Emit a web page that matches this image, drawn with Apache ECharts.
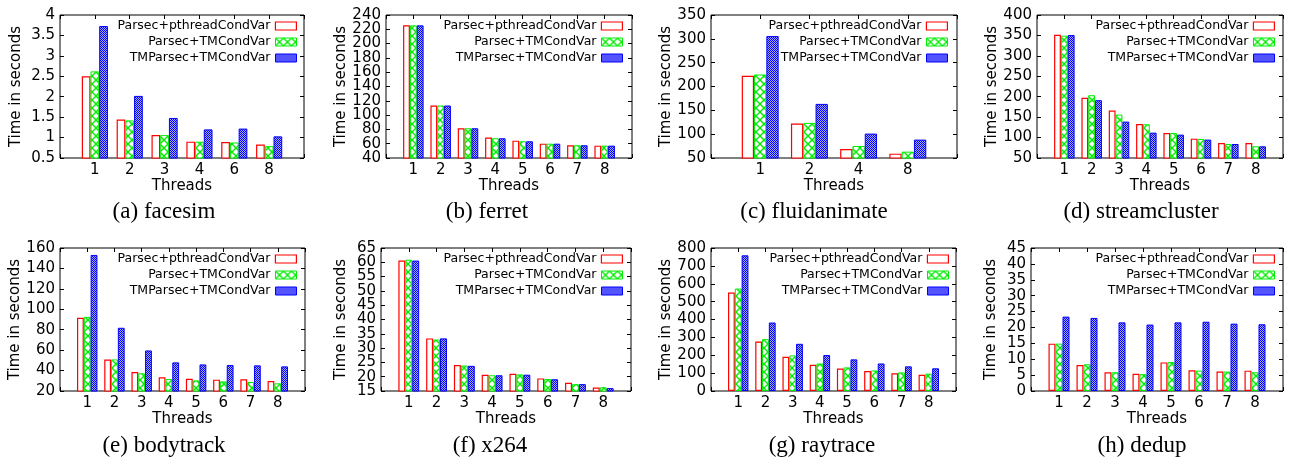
<!DOCTYPE html>
<html>
<head>
<meta charset="utf-8">
<script src="https://cdn.jsdelivr.net/npm/echarts@6/dist/echarts.min.js"></script>
<style>
  html, body { margin: 0; padding: 0; background: #ffffff; }
  #chart { width: 1291px; height: 460px; }
</style>
</head>
<body>
<div id="chart"></div>
<script>
// ---------------- DATA ----------------
const seriesNames = ['Parsec+pthreadCondVar', 'Parsec+TMCondVar', 'TMParsec+TMCondVar'];

const facesimThreads   = ['1', '2', '3', '4', '6', '8'];
const facesimPthread   = [2.50, 1.44, 1.06, 0.90, 0.89, 0.83];
const facesimTMCond    = [2.62, 1.42, 1.06, 0.90, 0.88, 0.79];
const facesimTMParsec  = [3.73, 2.02, 1.48, 1.20, 1.22, 1.03];
const facesimYTicks    = [0.5, 4, 0.5];

const ferretThreads    = ['1', '2', '3', '4', '5', '6', '7', '8'];
const ferretPthread    = [225.5, 113.4, 81.6, 68.5, 64.3, 60.1, 57.8, 57.3];
const ferretTMCond     = [225.5, 113.4, 81.6, 67.6, 63.4, 60.0, 57.8, 57.3];
const ferretTMParsec   = [225.5, 113.4, 81.6, 67.6, 63.4, 60.0, 57.8, 57.3];
const ferretYTicks     = [40, 240, 20];

const fluidThreads     = ['1', '2', '4', '8'];
const fluidPthread     = [222.4, 122.2, 68.9, 59.1];
const fluidTMCond      = [225.2, 123.6, 75.2, 63.3];
const fluidTMParsec    = [305.8, 163.5, 101.2, 88.6];
const fluidYTicks      = [50, 350, 50];

const streamThreads    = ['1', '2', '3', '4', '5', '6', '7', '8'];
const streamPthread    = [351.7, 197.2, 166.1, 133.4, 111.3, 97.4, 86.8, 86.8];
const streamTMCond     = [349.3, 203.7, 156.3, 132.6, 111.3, 96.6, 84.3, 78.6];
const streamTMParsec   = [350.9, 191.5, 139.1, 112.1, 107.2, 95.0, 84.3, 78.6];
const streamYTicks     = [50, 400, 50];

const bodyThreads      = ['1', '2', '3', '4', '5', '6', '7', '8'];
const bodyPthread      = [91.6, 50.9, 38.6, 33.4, 32.0, 31.1, 31.4, 29.8];
const bodyTMCond       = [92.6, 50.9, 37.3, 31.7, 30.4, 29.4, 28.8, 27.5];
const bodyTMParsec     = [153.2, 81.9, 59.7, 48.0, 46.0, 45.4, 45.1, 44.1];
const bodyYTicks       = [20, 160, 20];

const x264Threads      = ['1', '2', '3', '4', '5', '6', '7', '8'];
const x264Pthread      = [60.6, 33.4, 24.1, 20.7, 21.0, 19.4, 17.9, 16.2];
const x264TMCond       = [60.9, 33.0, 23.9, 20.5, 20.8, 19.2, 17.4, 16.3];
const x264TMParsec     = [60.6, 33.4, 23.8, 20.5, 20.7, 19.1, 17.4, 16.0];
const x264YTicks       = [15, 65, 5];

const rayThreads       = ['1', '2', '3', '4', '5', '6', '7', '8'];
const rayPthread       = [551, 277, 192, 147, 126, 112, 99, 91];
const rayTMCond        = [573, 290, 199, 154, 132, 115, 104, 97];
const rayTMParsec      = [759, 383, 264, 201, 177, 154, 138, 127];
const rayYTicks        = [0, 800, 100];

const dedupThreads     = ['1', '2', '3', '4', '5', '6', '7', '8'];
const dedupPthread     = [14.9, 8.2, 5.9, 5.4, 9.0, 6.5, 6.1, 6.4];
const dedupTMCond      = [14.9, 8.4, 5.9, 5.3, 9.1, 6.4, 6.1, 5.9];
const dedupTMParsec    = [23.4, 23.0, 21.6, 20.9, 21.6, 21.8, 21.2, 21.0];
const dedupYTicks      = [0, 45, 5];

const subtitles = ['(a) facesim', '(b) ferret', '(c) fluidanimate', '(d) streamcluster',
                   '(e) bodytrack', '(f) x264', '(g) raytrace', '(h) dedup'];
const xName = 'Threads';
const yName = 'Time in seconds';

const panelData = [
  { threads: facesimThreads, values: [facesimPthread, facesimTMCond, facesimTMParsec], ticks: facesimYTicks },
  { threads: ferretThreads,  values: [ferretPthread,  ferretTMCond,  ferretTMParsec],  ticks: ferretYTicks },
  { threads: fluidThreads,   values: [fluidPthread,   fluidTMCond,   fluidTMParsec],   ticks: fluidYTicks },
  { threads: streamThreads,  values: [streamPthread,  streamTMCond,  streamTMParsec],  ticks: streamYTicks },
  { threads: bodyThreads,    values: [bodyPthread,    bodyTMCond,    bodyTMParsec],    ticks: bodyYTicks },
  { threads: x264Threads,    values: [x264Pthread,    x264TMCond,    x264TMParsec],    ticks: x264YTicks },
  { threads: rayThreads,     values: [rayPthread,     rayTMCond,     rayTMParsec],     ticks: rayYTicks },
  { threads: dedupThreads,   values: [dedupPthread,   dedupTMCond,   dedupTMParsec],   ticks: dedupYTicks }
];

// ---------------- LAYOUT ----------------
const layout = [
  { frame: [60, 15, 304, 158],    legendRight: 297,  subX: 164,  subY: 212, nameGap: 36 },
  { frame: [386, 15, 632, 158],   legendRight: 623,  subX: 487,  subY: 212, nameGap: 36 },
  { frame: [711, 15, 957, 158],   legendRight: 948,  subX: 814,  subY: 212, nameGap: 36 },
  { frame: [1037, 15, 1283, 158], legendRight: 1275, subX: 1141, subY: 212, nameGap: 36 },
  { frame: [60, 248, 305, 391],   legendRight: 297,  subX: 164,  subY: 446, nameGap: 36 },
  { frame: [381, 248, 631, 391],  legendRight: 623,  subX: 490,  subY: 446, nameGap: 32 },
  { frame: [711, 248, 956, 391],  legendRight: 949,  subX: 822,  subY: 446, nameGap: 36 },
  { frame: [1031, 248, 1283, 391],legendRight: 1275, subX: 1142, subY: 446, nameGap: 32 }
];

const W = 1291;
const FONT = 'DejaVu Sans';
const AXIS_FS = 15;

function makeCanvas(w, h, draw) {
  const c = document.createElement('canvas');
  c.width = w; c.height = h;
  draw(c.getContext('2d'));
  return c;
}
const greenPattern = makeCanvas(8, 8, ctx => {
  ctx.fillStyle = '#ffffff'; ctx.fillRect(0, 0, 8, 8);
  ctx.strokeStyle = '#00ee00'; ctx.lineWidth = 1.4;
  ctx.beginPath();
  ctx.moveTo(-1, -1); ctx.lineTo(9, 9);
  ctx.moveTo(9, -1); ctx.lineTo(-1, 9);
  ctx.stroke();
});
const bluePattern = makeCanvas(2, 2, ctx => {
  ctx.fillStyle = '#0000ff'; ctx.fillRect(0, 0, 2, 2);
  ctx.fillStyle = '#a8a8ff';
  ctx.fillRect(1, 0, 1, 1); ctx.fillRect(0, 1, 1, 1);
});

const seriesStyles = [
  { color: '#ffffff', borderColor: '#ff0000', borderWidth: 1.2 },
  { color: { image: greenPattern, repeat: 'repeat' }, borderColor: '#00ee00', borderWidth: 1 },
  { color: { image: bluePattern, repeat: 'repeat' }, borderColor: '#0000ff', borderWidth: 1 }
];

const grid = [], xAxis = [], yAxis = [], series = [], legend = [], graphic = [];
const tick = { show: true, inside: true, length: 4, lineStyle: { color: '#000', width: 1 } };

panelData.forEach((p, i) => {
  const L = layout[i];
  const [fl, ft, fr, fb] = L.frame;
  const gw = fr - fl, gh = fb - ft;
  const n = p.threads.length;
  const unit = gw / (n + 1);
  grid.push({ left: fl, top: ft, width: gw, height: gh, show: true,
              borderColor: '#000', borderWidth: 1, backgroundColor: 'transparent' });

  const xBase = { type: 'value', gridIndex: i, min: -1, max: n, interval: 1,
                  splitLine: { show: false }, axisLine: { show: false, onZero: false } };
  xAxis.push(Object.assign({}, xBase, {
    position: 'bottom',
    name: xName, nameLocation: 'middle', nameGap: 21,
    nameTextStyle: { fontFamily: FONT, fontSize: AXIS_FS, color: '#000' },
    axisTick: tick,
    axisLabel: { show: true, margin: 5, fontFamily: FONT, fontSize: AXIS_FS, color: '#000',
                 showMinLabel: true, showMaxLabel: true, hideOverlap: false,
                 formatter: v => (v >= 0 && v < n) ? p.threads[v] : '' }
  }));
  xAxis.push(Object.assign({}, xBase, {
    position: 'top', axisTick: tick, axisLabel: { show: false }
  }));

  const [ymin, ymax, yint] = p.ticks;
  const yBase = { type: 'value', gridIndex: i, min: ymin, max: ymax, interval: yint,
                  splitLine: { show: false }, axisLine: { show: false, onZero: false } };
  const idxOf = v => Math.round((v - ymin) / yint);
  const yLabelStyle = { show: true, margin: 5, fontFamily: FONT, fontSize: AXIS_FS, color: '#000',
                        showMinLabel: true, showMaxLabel: true, hideOverlap: false };
  yAxis.push(Object.assign({}, yBase, {
    position: 'left',
    name: yName, nameLocation: 'middle', nameGap: L.nameGap, nameRotate: 90,
    nameTextStyle: { fontFamily: FONT, fontSize: AXIS_FS, color: '#000' },
    axisTick: tick,
    axisLabel: Object.assign({}, yLabelStyle, {
      formatter: v => idxOf(v) % 2 === 0 ? String(+v.toFixed(4)) : '' })
  }));
  yAxis.push(Object.assign({}, yBase, {
    position: 'right', axisTick: tick, axisLabel: { show: false }
  }));
  yAxis.push(Object.assign({}, yBase, {
    position: 'left', offset: 0, axisTick: { show: false },
    axisLabel: Object.assign({}, yLabelStyle, {
      formatter: v => idxOf(v) % 2 === 1 ? String(+v.toFixed(4)) : '' })
  }));

  p.values.forEach((vals, s) => {
    series.push({
      type: 'bar', name: seriesNames[s],
      xAxisIndex: 2 * i, yAxisIndex: 3 * i,
      barWidth: unit * 0.25, barGap: '0%',
      itemStyle: seriesStyles[s],
      emphasis: { disabled: true },
      animation: false,
      data: vals.map((v, k) => [k, v])
    });
    legend.push({
      data: [seriesNames[s]],
      right: W - L.legendRight, top: ft + 11 + 16 * s - 7,
      orient: 'horizontal', align: 'right', padding: 0,
      icon: 'rect', itemWidth: 21, itemHeight: 8, itemGap: 0,
      selectedMode: false,
      itemStyle: { borderColor: 'inherit', borderWidth: s === 0 ? 1.2 : 1 },
      textStyle: { fontFamily: FONT, fontSize: 12.5, lineHeight: 14, color: '#000', padding: 0 }
    });
  });

  graphic.push({
    type: 'text', x: L.subX, y: L.subY,
    style: { text: subtitles[i], fontFamily: 'Liberation Serif', fontSize: 23,
             fill: '#000', align: 'center', verticalAlign: 'middle' }
  });
});

const chart = echarts.init(document.getElementById('chart'), null, { renderer: 'canvas' });
chart.setOption({
  animation: false,
  backgroundColor: '#ffffff',
  grid, xAxis, yAxis, series, legend, graphic
});
</script>
</body>
</html>
